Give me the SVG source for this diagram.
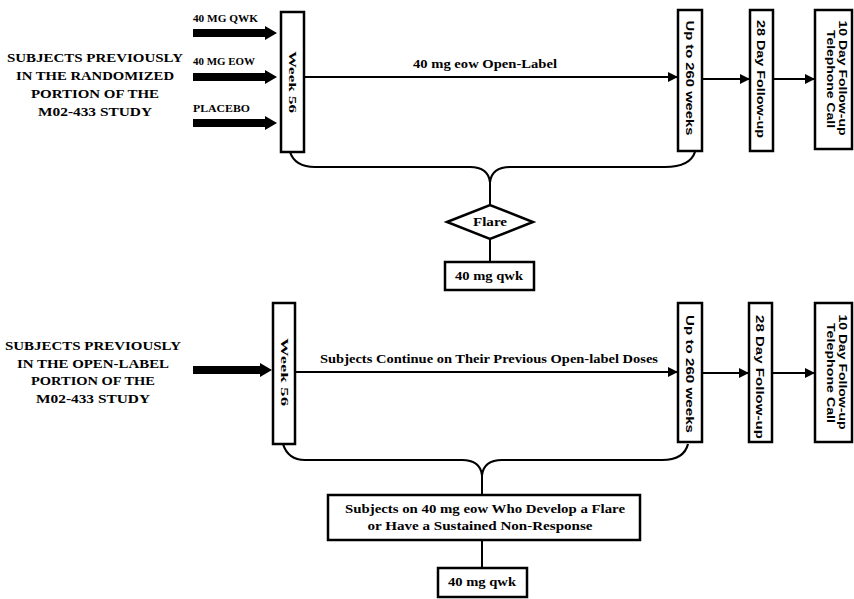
<svg xmlns="http://www.w3.org/2000/svg" width="854" height="599" viewBox="0 0 854 599">
<style>
.bg{fill:#fff}
.box{fill:#fff;stroke:#000;stroke-width:2.5}
.ln{fill:none;stroke:#000;stroke-width:2}
.brace{fill:none;stroke:#000;stroke-width:2.2}
.thick{fill:#000}
.serif{font-family:"Liberation Serif","Times New Roman",serif;font-weight:bold;fill:#000}
.sans{font-family:"Liberation Sans",Arial,sans-serif;font-weight:bold;fill:#000}
.lead{font-size:12.5px;text-anchor:middle}
.small{font-size:10px}
.vt{font-size:11px;text-anchor:middle}
.mid{text-anchor:middle}
</style>
<defs>
<marker id="ah" viewBox="0 0 10 10" refX="10" refY="5" markerWidth="5" markerHeight="5" orient="auto" markerUnits="strokeWidth">
<path d="M0,0 L10,5 L0,10 z" fill="#000"/>
</marker>
</defs>
<rect class="bg" x="0" y="0" width="854" height="599"/>

<!-- TOP SECTION -->
<g id="top-source">
<text class="serif lead" x="95" y="62" textLength="176" lengthAdjust="spacingAndGlyphs">SUBJECTS PREVIOUSLY</text>
<text class="serif lead" x="95" y="80" textLength="158" lengthAdjust="spacingAndGlyphs">IN THE RANDOMIZED</text>
<text class="serif lead" x="95" y="98" textLength="128" lengthAdjust="spacingAndGlyphs">PORTION OF THE</text>
<text class="serif lead" x="95" y="116" textLength="114" lengthAdjust="spacingAndGlyphs">M02-433 STUDY</text>
</g>
<g id="top-arms">
<text class="serif small" x="193" y="22" textLength="65" lengthAdjust="spacingAndGlyphs">40 MG QWK</text>
<polygon class="thick" points="193,29 265,29 265,26 277,33 265,40 265,37 193,37"/>
<text class="serif small" x="193" y="65" textLength="62" lengthAdjust="spacingAndGlyphs">40 MG EOW</text>
<polygon class="thick" points="193,73 265,73 265,70 277,77 265,84 265,81 193,81"/>
<text class="serif small" x="193" y="112" textLength="57" lengthAdjust="spacingAndGlyphs">PLACEBO</text>
<polygon class="thick" points="193,119 265,119 265,116 277,123 265,130 265,127 193,127"/>
</g>
<g id="top-week56">
<rect class="box" x="281" y="12" width="23" height="140"/>
<text class="serif vt" transform="translate(289,82) rotate(90)" textLength="62" lengthAdjust="spacingAndGlyphs">Week 56</text>
</g>
<g id="top-up260">
<rect class="box" x="678" y="10" width="24" height="141"/>
<text class="sans vt" transform="translate(686,78) rotate(90)" textLength="115" lengthAdjust="spacingAndGlyphs">Up to 260 weeks</text>
</g>
<g id="top-fu28">
<rect class="box" x="750" y="10" width="23" height="141"/>
<text class="sans vt" transform="translate(757,79) rotate(90)" textLength="118" lengthAdjust="spacingAndGlyphs">28 Day Follow-up</text>
</g>
<g id="top-fu10">
<rect class="box" x="815" y="10" width="37" height="139"/>
<text class="sans vt" transform="translate(839,78) rotate(90)" textLength="115" lengthAdjust="spacingAndGlyphs">10 Day Follow-up</text>
<text class="sans vt" transform="translate(827,79) rotate(90)" textLength="98" lengthAdjust="spacingAndGlyphs">Telephone Call</text>
</g>
<g id="top-flare">
<polygon class="box" points="447,222 490,205 533,222 490,239"/>
<text class="serif mid" x="490" y="226" font-size="12" textLength="34" lengthAdjust="spacingAndGlyphs">Flare</text>
</g>
<g id="top-qwk">
<rect class="box" x="445" y="262" width="89" height="28"/>
<text class="serif mid" x="489" y="280" font-size="12" textLength="68" lengthAdjust="spacingAndGlyphs">40 mg qwk</text>
</g>

<!-- BOTTOM SECTION -->
<g id="bot-source">
<text class="serif lead" x="93" y="350" textLength="176" lengthAdjust="spacingAndGlyphs">SUBJECTS PREVIOUSLY</text>
<text class="serif lead" x="93" y="368" textLength="152" lengthAdjust="spacingAndGlyphs">IN THE OPEN-LABEL</text>
<text class="serif lead" x="93" y="385" textLength="124" lengthAdjust="spacingAndGlyphs">PORTION OF THE</text>
<text class="serif lead" x="93" y="403" textLength="114" lengthAdjust="spacingAndGlyphs">M02-433 STUDY</text>
<polygon class="thick" points="193,366 260,366 260,363 272,370 260,377 260,374 193,374"/>
</g>
<g id="bot-week56">
<rect class="box" x="273" y="303" width="22" height="141"/>
<text class="serif vt" transform="translate(281,372) rotate(90)" textLength="68" lengthAdjust="spacingAndGlyphs">Week 56</text>
</g>
<g id="bot-up260">
<rect class="box" x="678" y="303" width="24" height="139"/>
<text class="sans vt" transform="translate(686,374) rotate(90)" textLength="118" lengthAdjust="spacingAndGlyphs">Up to 260 weeks</text>
</g>
<g id="bot-fu28">
<rect class="box" x="749" y="303" width="23" height="139"/>
<text class="sans vt" transform="translate(756,377) rotate(90)" textLength="124" lengthAdjust="spacingAndGlyphs">28 Day Follow-up</text>
</g>
<g id="bot-fu10">
<rect class="box" x="815" y="303" width="37" height="139"/>
<text class="sans vt" transform="translate(839,372) rotate(90)" textLength="115" lengthAdjust="spacingAndGlyphs">10 Day Follow-up</text>
<text class="sans vt" transform="translate(827,373) rotate(90)" textLength="100" lengthAdjust="spacingAndGlyphs">Telephone Call</text>
</g>
<g id="bot-flare">
<rect class="box" x="328" y="495" width="312" height="45"/>
<text class="serif mid" x="485" y="513" font-size="11.5" textLength="280" lengthAdjust="spacingAndGlyphs">Subjects on 40 mg eow Who Develop a Flare</text>
<text class="serif mid" x="480" y="530" font-size="11.5" textLength="225" lengthAdjust="spacingAndGlyphs">or Have a Sustained Non-Response</text>
</g>
<g id="bot-qwk">
<rect class="box" x="438" y="568" width="89" height="29"/>
<text class="serif mid" x="482" y="586" font-size="12" textLength="68" lengthAdjust="spacingAndGlyphs">40 mg qwk</text>
</g>

<!-- CONNECTORS -->
<g id="connectors">
<path class="ln" d="M304,77 L678,77" marker-end="url(#ah)"/>
<text class="serif" x="413" y="68" font-size="13" textLength="144" lengthAdjust="spacingAndGlyphs">40 mg eow Open-Label</text>
<path class="ln" d="M702,79 L750,79" marker-end="url(#ah)"/>
<path class="ln" d="M773,79 L815,79" marker-end="url(#ah)"/>
<path class="brace" d="M290,152 Q295,167 315,167 L470,167 Q488,167 490,182 Q492,167 510,167 L665,167 Q690,167 695,152"/>
<path class="ln" d="M490,182 L490,205"/>
<path class="ln" d="M490,239 L490,262"/>

<path class="ln" d="M295,372 L678,372" marker-end="url(#ah)"/>
<text class="serif" x="320" y="363" font-size="13" textLength="338" lengthAdjust="spacingAndGlyphs">Subjects Continue on Their Previous Open-label Doses</text>
<path class="ln" d="M702,373 L749,373" marker-end="url(#ah)"/>
<path class="ln" d="M772,373 L815,373" marker-end="url(#ah)"/>
<path class="brace" d="M283,444 Q288,460 305,460 L462,460 Q480,460 482,475 Q484,460 502,460 L662,460 Q684,460 688,444"/>
<path class="ln" d="M482,475 L482,495"/>
<path class="ln" d="M482,540 L482,568"/>
</g>
</svg>
